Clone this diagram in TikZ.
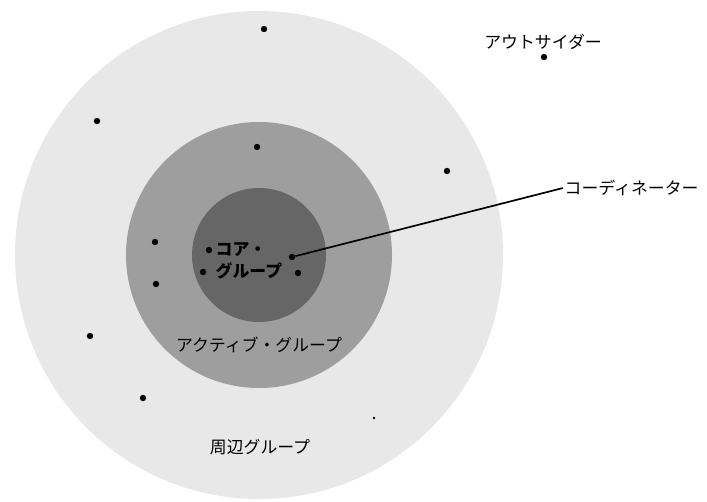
\documentclass[tikz,border=0pt]{standalone}
\usepackage{fontspec}
\setmainfont{Noto Sans CJK JP}
\begin{document}
\begin{tikzpicture}[x=0.025cm, y=-0.025cm,
    member/.style={circle, fill=black, inner sep=0pt, minimum size=1.6mm},
    ringtext/.style={font=\fontsize{12}{15.5}\selectfont, inner sep=1pt}]
  \useasboundingbox (0,0) rectangle (707,501);
  \def\cx{259}
  \def\cy{255}

  % three groups, outside in
  \fill[black!9]  (\cx,\cy) circle (244);
  \fill[black!38] (\cx,\cy) circle (133);
  \fill[black!60] (\cx,\cy) circle (67);

  % members
  \foreach \p [count=\i] in {(264,29), (97,121), (257,147), (447,171),
      (155,242), (156,284), (209,250), (203,272), (298,273),
      (90,336), (143,398)} {
    \node[member] (m\i) at \p {};
  }
  \node[member, minimum size=0.7mm] (stray) at (374,418) {};
  \node[member] (outsider) at (544,57) {};
  \node[member] (coord) at (292,257) {};

  % labels
  \node[ringtext] (outsidertext) at (543,42) {アウトサイダー};
  \node[ringtext, anchor=west] (coordtext) at (563,188) {コーディネーター};
  \node[ringtext, font=\fontsize{12}{15.6}\selectfont\bfseries, align=left,
    anchor=west] (coretext) at (214,261) {コア・\\グループ};
  \node[ringtext] (activetext) at (259,345) {アクティブ・グループ};
  \node[ringtext] (outertext) at (260,447) {周辺グループ};

  \draw[line width=1.2pt] (coord) -- (coordtext.west);
\end{tikzpicture}
\end{document}
